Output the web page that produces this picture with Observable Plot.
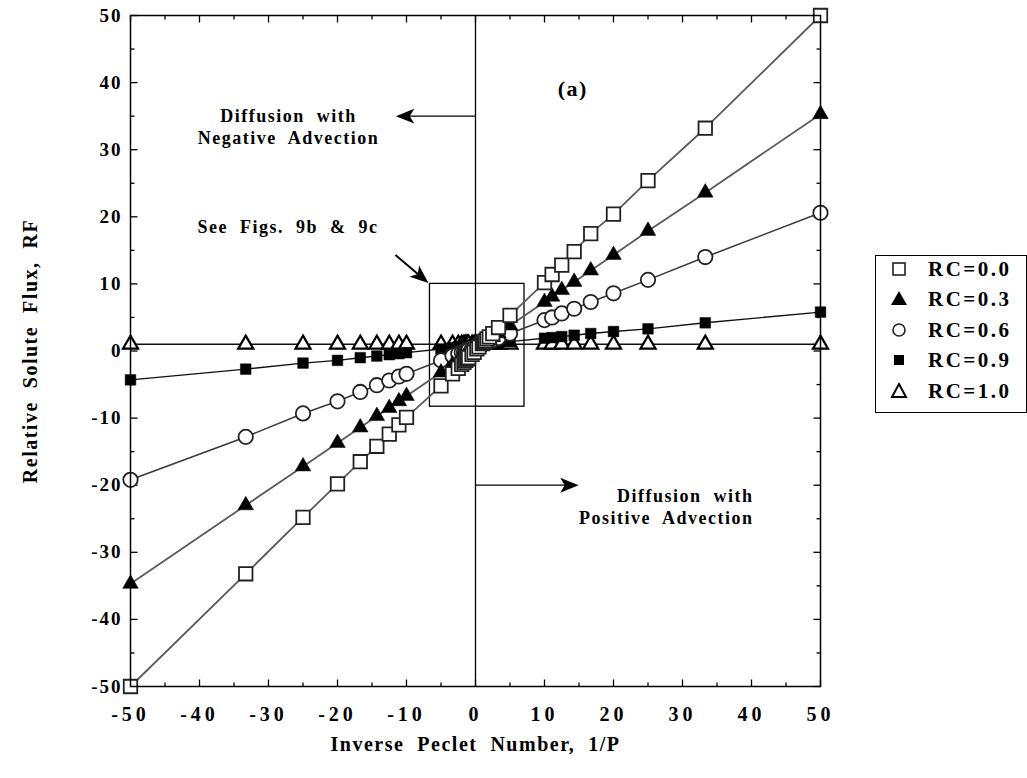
<!DOCTYPE html>
<html>
<head>
<meta charset="utf-8">
<script src="https://cdn.jsdelivr.net/npm/d3@7"></script>
<script src="https://cdn.jsdelivr.net/npm/@observablehq/plot@0.6"></script>
<style>
  html, body { margin: 0; padding: 0; background: #fff; }
  #wrap { position: relative; width: 1027px; height: 778px; font-family: "Liberation Serif", serif; font-weight: bold; }
  #legend { position: absolute; left: 875px; top: 255px; width: 152px; height: 158px; box-sizing: border-box; border: 1.5px solid #000; background: #fff; }
  .row { position: absolute; left: 0; height: 24px; display: flex; align-items: center; }
  .row svg { margin-left: 12px; }
  .row span { margin-left: 18px; font-size: 21px; letter-spacing: 2.5px; color: #000; }
  svg text { font-family: "Liberation Serif", serif; }
  [aria-label="x-axis tick label"] text { letter-spacing: 4px; }
  [aria-label="y-axis tick label"] text { letter-spacing: 2px; }
</style>
</head>
<body>
<div id="wrap"><div id="chart"></div><div id="legend"></div></div>
<script>
// Inverse Peclet number, 1/P
const invP = [-50, -33.3, -25, -20, -16.7, -14.3, -12.5, -11.1, -10, -5, -3.33, -2.5, -2, -1.67, -1.43, -1.25, -1.11, -1, -0.5, -0.2,
              0.2, 0.5, 1, 1.11, 1.25, 1.43, 1.67, 2, 2.5, 3.33, 5, 10, 11.1, 12.5, 14.3, 16.7, 20, 25, 33.3, 50];
// Relative solute flux RF for each reflection coefficient RC
const rf00 = [-50, -33.2, -24.8, -19.8, -16.5, -14.2, -12.4, -11, -9.9, -5.2, -3.4, -2.6, -2.0, -1.7, -1.4, -1.2, -1.1, -1.0, -0.5, -0.2,
              0.3, 0.6, 1.1, 1.2, 1.3, 1.5, 1.8, 2.1, 2.6, 3.5, 5.3, 10.2, 11.4, 12.8, 14.8, 17.5, 20.4, 25.4, 33.2, 50];
const rf03 = [-34.7, -23.0, -17.2, -13.7, -11.4, -9.7, -8.5, -7.5, -6.7, -3.2, -2.0, -1.45, -1.1, -0.87, -0.7, -0.58, -0.48, -0.4, -0.05, 0.16,
              0.44, 0.65, 1.0, 1.08, 1.18, 1.3, 1.47, 1.7, 2.05, 2.63, 3.8, 7.3, 8.1, 9.1, 10.3, 12.0, 14.3, 17.9, 23.6, 35.3];
const rf06 = [-19.2, -12.8, -9.3, -7.5, -6.1, -5.1, -4.4, -3.8, -3.4, -1.4, -0.73, -0.4, -0.2, -0.07, 0.03, 0.1, 0.16, 0.2, 0.4, 0.52,
              0.68, 0.8, 1.0, 1.04, 1.1, 1.17, 1.27, 1.4, 1.6, 1.93, 2.6, 4.6, 5.0, 5.6, 6.3, 7.3, 8.6, 10.6, 14.0, 20.6];
const rf09 = [-4.3, -2.7, -1.8, -1.4, -1.0, -0.75, -0.55, -0.4, -0.25, 0.3, 0.5, 0.6, 0.65, 0.7, 0.72, 0.75, 0.77, 0.78, 0.84, 0.88,
              0.92, 0.95, 1.0, 1.01, 1.03, 1.04, 1.07, 1.1, 1.15, 1.25, 1.4, 1.9, 2.0, 2.15, 2.35, 2.6, 2.9, 3.3, 4.2, 5.8];
const rf10 = [1, 1, 1, 1, 1, 1, 1, 1, 1, 1, 1, 1, 1, 1, 1, 1, 1, 1, 1, 1,
              1, 1, 1, 1, 1, 1, 1, 1, 1, 1, 1, 1, 1, 1, 1, 1, 1, 1, 1, 1];
const seriesNames = ["RC=0.0", "RC=0.3", "RC=0.6", "RC=0.9", "RC=1.0"];
const xTicks = [-50, -40, -30, -20, -10, 0, 10, 20, 30, 40, 50];
const yTicks = [-50, -40, -30, -20, -10, 0, 10, 20, 30, 40, 50];
const minorTicks = [-45, -35, -25, -15, -5, 5, 15, 25, 35, 45];

const allY = [rf00, rf03, rf06, rf09, rf10];
const data = seriesNames.map((name, i) => invP.map((x, j) => ({series: name, x, y: allY[i][j]})));

const arrowHead = {
  draw(ctx, size) {
    const s = Math.sqrt(size);
    ctx.moveTo(s, 0);
    ctx.lineTo(-0.85 * s, -0.75 * s);
    ctx.lineTo(-0.4 * s, 0);
    ctx.lineTo(-0.85 * s, 0.75 * s);
    ctx.closePath();
  }
};

const W = 1027, H = 778;
const mL = 130, mR = 207, mT = 15, mB = 92;
const pxX = 100 / (W - mL - mR), pxY = 100 / (H - mT - mB);
const major = 7, minor = 4;

const tickLinks = [];
for (const t of xTicks) {
  tickLinks.push({x1: t, y1: -50, x2: t, y2: -50 + major * pxY});
  tickLinks.push({x1: t, y1: 50, x2: t, y2: 50 - major * pxY});
}
for (const t of minorTicks) {
  tickLinks.push({x1: t, y1: -50, x2: t, y2: -50 + minor * pxY});
  tickLinks.push({x1: t, y1: 50, x2: t, y2: 50 - minor * pxY});
  tickLinks.push({x1: -50, y1: t, x2: -50 + minor * pxX, y2: t});
  tickLinks.push({x1: 50, y1: t, x2: 50 - minor * pxX, y2: t});
}
for (const t of yTicks) {
  tickLinks.push({x1: -50, y1: t, x2: -50 + major * pxX, y2: t});
  tickLinks.push({x1: 50, y1: t, x2: 50 - major * pxX, y2: t});
}

const txtStyle = {fontSize: 18, fontWeight: "bold", fill: "black", lineHeight: 1.2};

const plot = Plot.plot({
  width: W, height: H,
  marginLeft: mL, marginRight: mR, marginTop: mT, marginBottom: mB,
  x: {domain: [-50, 50]},
  y: {domain: [-50, 50]},
  style: {fontFamily: "Liberation Serif, serif", fontWeight: "bold", background: "white", color: "black"},
  marks: [
    Plot.ruleX([0], {stroke: "black", strokeWidth: 1.3}),
    Plot.rect([{x1: -6.6, x2: 7.1, y1: -8.3, y2: 10}], {x1: "x1", x2: "x2", y1: "y1", y2: "y2", fill: "none", stroke: "black", strokeWidth: 1.3}),
    Plot.link(tickLinks, {x1: "x1", y1: "y1", x2: "x2", y2: "y2", stroke: "black", strokeWidth: 1.3}),
    Plot.line(data[0], {x: "x", y: "y", stroke: "#5a5a5a", strokeWidth: 1.8}),
    Plot.line(data[1], {x: "x", y: "y", stroke: "#5a5a5a", strokeWidth: 1.8}),
    Plot.line(data[2], {x: "x", y: "y", stroke: "#3a3a3a", strokeWidth: 1.6}),
    Plot.line(data[3], {x: "x", y: "y", stroke: "#111", strokeWidth: 1.4}),
    Plot.line(data[4], {x: "x", y: "y", stroke: "#111", strokeWidth: 1.4}),
    Plot.dot(data[4], {x: "x", y: "y", symbol: "triangle", r: 5.6, fill: "white", stroke: "black", strokeWidth: 2.2}),
    Plot.dot(data[3], {x: "x", y: "y", symbol: "square", r: 6.0, fill: "black", stroke: "black", strokeWidth: 0.5}),
    Plot.dot(data[2], {x: "x", y: "y", symbol: "circle", r: 7.2, fill: "white", stroke: "#222", strokeWidth: 1.8}),
    Plot.dot(data[1], {x: "x", y: "y", symbol: "triangle", r: 5.8, fill: "black", stroke: "black", strokeWidth: 0.5}),
    Plot.dot(data[0], {x: "x", y: "y", symbol: "square", r: 7.6, fill: "white", stroke: "#222", strokeWidth: 1.8}),
    Plot.link([{x1: 0, y1: 35, x2: -10.1, y2: 35}], {x1: "x1", y1: "y1", x2: "x2", y2: "y2", stroke: "black", strokeWidth: 1.3}),
    Plot.dot([{x: -10.1, y: 35}], {x: "x", y: "y", symbol: arrowHead, r: 5.6, fill: "black", rotate: 180}),
    Plot.text(["Diffusion  with\nNegative  Advection"], {x: -27.1, y: 33.5, textAnchor: "middle", ...txtStyle}),
    Plot.link([{x1: 0, y1: -20, x2: 13.5, y2: -20}], {x1: "x1", y1: "y1", x2: "x2", y2: "y2", stroke: "black", strokeWidth: 1.3}),
    Plot.dot([{x: 13.5, y: -20}], {x: "x", y: "y", symbol: arrowHead, r: 5.6, fill: "black"}),
    Plot.text(["Diffusion  with\nPositive  Advection"], {x: 40.3, y: -23.1, textAnchor: "end", ...txtStyle}),
    Plot.text(["See  Figs.  9b  &  9c"], {x: -40.3, y: 18.6, textAnchor: "start", ...txtStyle}),
    Plot.link([{x1: -11.6, y1: 14.3, x2: -7.93, y2: 11.09}], {x1: "x1", y1: "y1", x2: "x2", y2: "y2", stroke: "black", strokeWidth: 2}),
    Plot.dot([{x: -7.93, y: 11.09}], {x: "x", y: "y", symbol: arrowHead, r: 5.6, fill: "black", rotate: 40}),
    Plot.text(["(a)"], {x: 14.1, y: 39.3, ...txtStyle, fontSize: 22}),
    Plot.axisX({ticks: xTicks, tickSize: 0, tickPadding: 20, fontSize: 20, label: null, tickFormat: d => String(d)}),
    Plot.axisY({ticks: yTicks, tickSize: 0, tickPadding: 8, fontSize: 19, label: null, tickFormat: d => String(d)}),
    Plot.text(["Inverse  Peclet  Number,  1/P"], {frameAnchor: "bottom", textAnchor: "middle", dy: 64, fontSize: 20, fontWeight: "bold", fill: "black"}),
    Plot.text(["Relative  Solute  Flux,  RF"], {frameAnchor: "left", textAnchor: "middle", dx: -100, rotate: -90, fontSize: 20, fontWeight: "bold", fill: "black"}),
    Plot.frame({stroke: "black", strokeWidth: 1.5})
  ]
});
document.getElementById("chart").appendChild(plot);

d3.select(plot).selectAll('[aria-label="text"] text').style("letter-spacing", "1.5px");

const legendSymbols = [
  '<rect x="5" y="5" width="12" height="12" fill="white" stroke="#222" stroke-width="1.6"/>',
  '<path d="M11,3 L19,17 L3,17 Z" fill="black"/>',
  '<circle cx="11" cy="11" r="6" fill="white" stroke="#222" stroke-width="1.6"/>',
  '<rect x="6" y="6" width="10" height="10" fill="black"/>',
  '<path d="M11,4 L18,17 L4,17 Z" fill="white" stroke="black" stroke-width="2"/>'
];
const legend = document.getElementById("legend");
const rowTops = [1, 31, 62, 92, 123];
seriesNames.forEach((name, i) => {
  const row = document.createElement("div");
  row.className = "row";
  row.style.top = rowTops[i] + "px";
  row.innerHTML = `<svg width="22" height="22" viewBox="0 0 22 22">${legendSymbols[i]}</svg><span>${name}</span>`;
  legend.appendChild(row);
});
</script>
</body>
</html>
